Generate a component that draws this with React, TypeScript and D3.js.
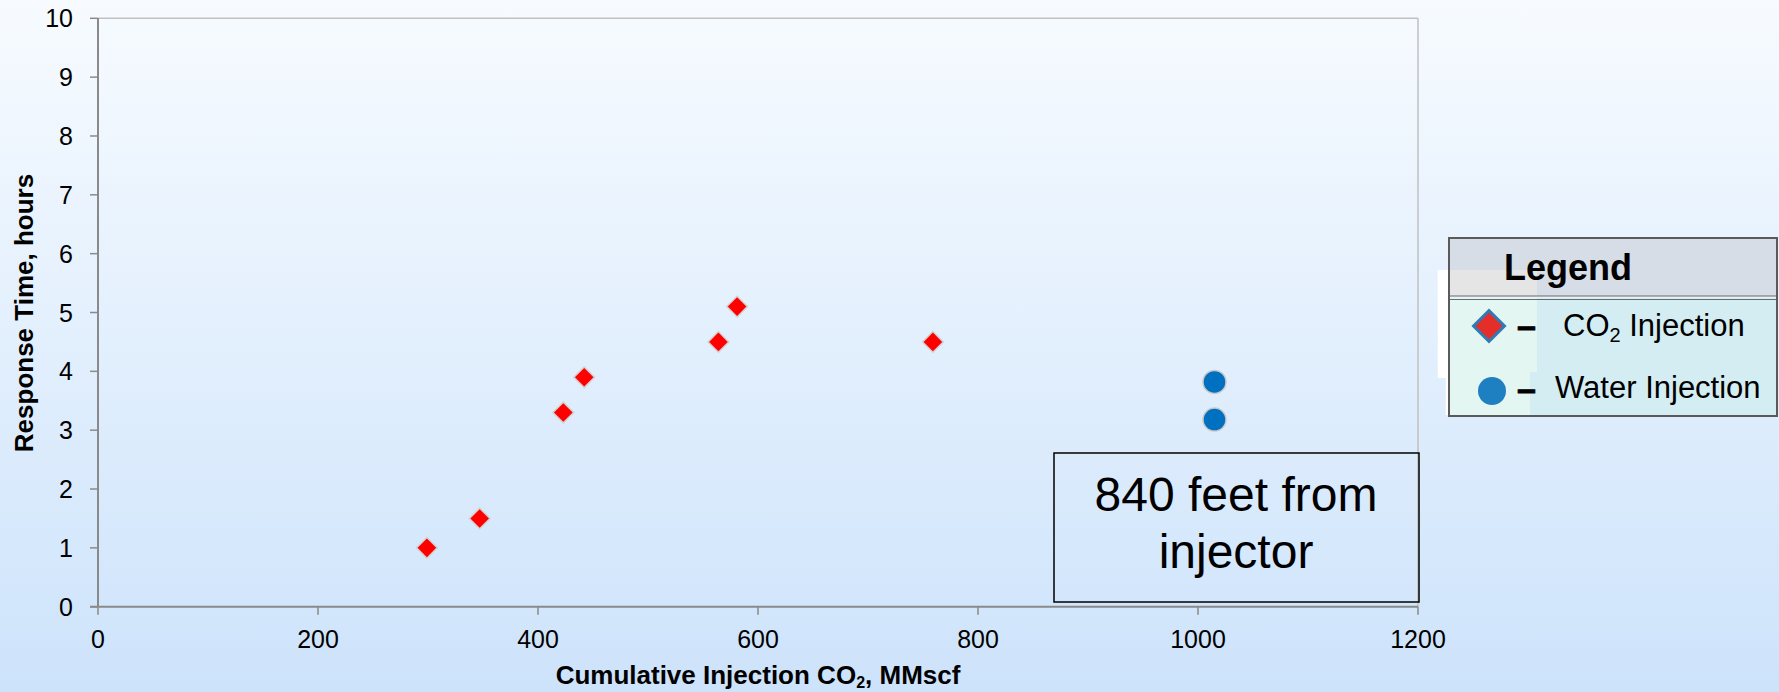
import React from "react";
import * as d3 from "d3";

const xTicks = [0, 200, 400, 600, 800, 1000, 1200];
const yTicks = [0, 1, 2, 3, 4, 5, 6, 7, 8, 9, 10];
const co2X = [299, 347, 423, 442, 564, 581, 759];
const co2Y = [1.0, 1.5, 3.3, 3.9, 4.5, 5.1, 4.5];
const waterX = [1015, 1015];
const waterY = [3.82, 3.18];
const xTitle = "Cumulative Injection CO";
const xTitleEnd = ", MMscf";
const yTitle = "Response Time, hours";
const boxLines = ["840 feet from", "injector"];
const legendTitle = "Legend";
const legendItems = ["CO", "Water Injection"];

const W = 1779;
const H = 692;
const FONT = "'Liberation Sans', Arial, sans-serif";

export default function App() {
  const x = d3.scaleLinear().domain([0, 1200]).range([98, 1418]);
  const y = d3.scaleLinear().domain([0, 10]).range([606.7, 18.3]);
  const sq = d3.symbol().type(d3.symbolSquare).size(215)();
  const sqL = d3.symbol().type(d3.symbolSquare).size(480)();
  const co2 = co2X.map((v, i) => [v, co2Y[i]]);
  const water = waterX.map((v, i) => [v, waterY[i]]);

  return (
    <svg
      width={W}
      height={H}
      style={{ position: "absolute", left: 0, top: 0, display: "block" }}
      fontFamily={FONT}
    >
      <defs>
        <linearGradient id="bg" x1="0" y1="0" x2="0" y2="1">
          <stop offset="0" stopColor="#f7fbff" />
          <stop offset="1" stopColor="#cde3fb" />
        </linearGradient>
      </defs>
      <rect x={0} y={0} width={W} height={H} fill="url(#bg)" />

      {/* plot border */}
      <line x1={x(0)} x2={x(1200)} y1={y(10)} y2={y(10)} stroke="#c0c0c0" strokeWidth={1.5} />
      <line x1={x(1200)} x2={x(1200)} y1={y(10)} y2={y(0)} stroke="#c0c0c0" strokeWidth={1.5} />

      {/* y axis */}
      <line x1={x(0)} x2={x(0)} y1={y(10)} y2={y(0)} stroke="#8a8a8a" strokeWidth={2} />
      {yTicks.map((t) => (
        <g key={"y" + t}>
          <line x1={x(0) - 8} x2={x(0)} y1={y(t)} y2={y(t)} stroke="#8a8a8a" strokeWidth={1.5} />
          <text x={73} y={y(t)} dy="0.36em" textAnchor="end" fontSize={25} fill="#000">
            {t}
          </text>
        </g>
      ))}

      {/* x axis */}
      <line x1={x(0) - 8} x2={x(1200)} y1={y(0)} y2={y(0)} stroke="#8a8a8a" strokeWidth={2} />
      {xTicks.map((t) => (
        <g key={"x" + t}>
          <line x1={x(t)} x2={x(t)} y1={y(0)} y2={y(0) + 8} stroke="#8a8a8a" strokeWidth={1.5} />
          <text x={x(t)} y={648} textAnchor="middle" fontSize={25} fill="#000">
            {t}
          </text>
        </g>
      ))}

      {/* axis titles */}
      <text x={758} y={684} textAnchor="middle" fontSize={26} fontWeight="bold" fill="#000">
        {xTitle}
        <tspan fontSize={16} dy={4}>2</tspan>
        <tspan dy={-4}>{xTitleEnd}</tspan>
      </text>
      <text
        transform={`translate(33,313) rotate(-90)`}
        textAnchor="middle"
        fontSize={26}
        fontWeight="bold"
        fill="#000"
      >
        {yTitle}
      </text>

      {/* text box */}
      <rect x={1054} y={453} width={365} height={149} fill="none" stroke="#000" strokeWidth={1.5} />
      {boxLines.map((l, i) => (
        <text key={l} x={1236} y={511 + i * 57} textAnchor="middle" fontSize={48} fill="#000">
          {l}
        </text>
      ))}

      {/* CO2 points */}
      {co2.map((d, i) => (
        <path
          key={"c" + i}
          d={sq}
          transform={`translate(${x(d[0])},${y(d[1])}) rotate(45)`}
          fill="#ff0000"
          stroke="#d2d2d2"
          strokeWidth={1.5}
        />
      ))}
      {/* water points */}
      {water.map((d, i) => (
        <circle
          key={"w" + i}
          cx={x(d[0])}
          cy={y(d[1])}
          r={11.5}
          fill="#0070c0"
          stroke="#c8c8c8"
          strokeWidth={1.5}
        />
      ))}

      {/* legend */}
      <g>
        <rect x={1437.7} y={270} width={12} height={108} fill="#ffffff" />
        <rect x={1445.7} y={378} width={4} height={37} fill="#ffffff" />
        <rect x={1449} y={238} width={328} height={58} fill="#d6dde6" />
        <rect x={1449} y={270} width={88} height={26} fill="#e5e5e5" />
        <rect x={1449} y={298} width={328} height={118} fill="#d4edf2" />
        <rect x={1449} y={298} width={88} height={74} fill="#e4f6f1" />
        <rect x={1449} y={372} width={81} height={44} fill="#e4f6f1" />
        <line x1={1449} x2={1777} y1={296} y2={296} stroke="#6a6a6a" strokeWidth={1.2} />
        <line x1={1449} x2={1777} y1={299.5} y2={299.5} stroke="#6a6a6a" strokeWidth={1.2} />
        <rect x={1449} y={238} width={328} height={178} fill="none" stroke="#5a5a5a" strokeWidth={2} />
        <text x={1504} y={280} fontSize={36} fontWeight="bold" fill="#000">
          {legendTitle}
        </text>
        <path
          d={sqL}
          transform={`translate(1489,326) rotate(45)`}
          fill="#e52e2a"
          stroke="#2f7bb5"
          strokeWidth={3}
        />
        <text x={1517} y={337} fontSize={34} fontWeight="bold" fill="#000" stroke="#000" strokeWidth={0.8}>–</text>
        <text x={1563} y={336} fontSize={31} fill="#000">
          {legendItems[0]}
          <tspan fontSize={20} dy={6}>2</tspan>
          <tspan dy={-6}> Injection</tspan>
        </text>
        <circle cx={1492} cy={391} r={14} fill="#1f80c1" />
        <text x={1517} y={400} fontSize={34} fontWeight="bold" fill="#000" stroke="#000" strokeWidth={0.8}>–</text>
        <text x={1555} y={398} fontSize={31} fill="#000">
          {legendItems[1]}
        </text>
      </g>
    </svg>
  );
}
